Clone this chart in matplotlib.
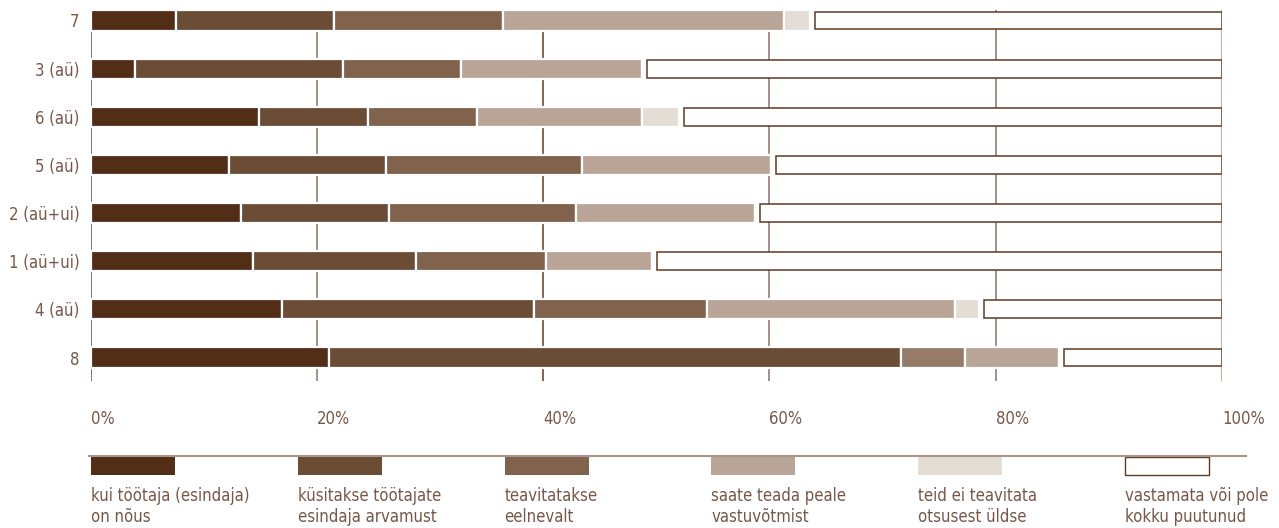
import matplotlib
matplotlib.use("Agg")
import matplotlib.pyplot as plt
from matplotlib.patches import Rectangle
from matplotlib.lines import Line2D
import numpy as np

# rows, top to bottom
categories = ['7', '3 (aü)', '6 (aü)', '5 (aü)', '2 (aü+ui)', '1 (aü+ui)', '4 (aü)', '8']

# shares in %, one list per answer
kui_nous = [7.6, 3.9, 14.9, 12.2, 13.3, 14.4, 16.9, 21.1]
kusitakse = [13.9, 18.4, 9.6, 13.9, 13.1, 14.4, 22.3, 50.5]
teavitatakse = [15.0, 10.4, 9.7, 17.3, 16.5, 11.5, 15.3, 5.7]
peale = [24.8, 16.0, 14.5, 16.7, 15.8, 9.3, 21.9, 8.3]
ei_teavitata = [2.3, 0.0, 3.3, 0.0, 0.0, 0.0, 2.1, 0.0]
vastamata = [36.4, 51.3, 48.0, 39.9, 41.3, 50.4, 21.5, 14.4]

legend_labels = [
    'kui töötaja (esindaja)\non nõus',
    'küsitakse töötajate\nesindaja arvamust',
    'teavitatakse\neelnevalt',
    'saate teada peale\nvastuvõtmist',
    'teid ei teavitata\notsusest üldse',
    'vastamata või pole\nkokku puutunud',
]
ticks = [0, 20, 40, 60, 80, 100]
tick_labels = ['0%', '20%', '40%', '60%', '80%', '100%']

colors = ['#522e17', '#6b4d36', '#80624d', '#b9a698', '#e4ddd6', '#ffffff']
# the last row's third segment is a touch lighter in the original
teav_colors = ['#80624d'] * 7 + ['#967b69']
edge_dark = '#5c3b22'
text_col = '#76584a'
font = dict(family='DejaVu Sans', stretch='condensed')

fig = plt.figure(figsize=(12.79, 5.28), dpi=100)
W, H = 1279, 528
ax = fig.add_axes([90.5 / W, 1 - 381 / H, (1222 - 90.5) / W, (381 - 10) / H])

series = [kui_nous, kusitakse, teavitatakse, peale, ei_teavitata, vastamata]
y = np.arange(len(categories))
left = np.zeros(len(categories))
for i, vals in enumerate(series):
    vals = np.array(vals)
    if i < 5:
        col = teav_colors if i == 2 else colors[i]
        ax.barh(y, vals, left=left, height=0.42, color=col,
                edgecolor='white', linewidth=1.6, zorder=3)
    else:
        ax.barh(y, vals - 0.45, left=left + 0.45, height=0.37, color='white',
                edgecolor=edge_dark, linewidth=1.1, zorder=3)
    left += vals

# grid lines
grid_cols = ['#7a5a48', '#8c7363', '#5c3b22', '#8c7363', '#8c7363', '#a8968a']
grid_lw = [1.2, 1.1, 1.1, 1.1, 1.1, 1.8]
for t, c, lw in zip(ticks, grid_cols, grid_lw):
    ax.axvline(t, color=c, linewidth=lw, zorder=1)

ax.set_xlim(0, 100)
ax.set_ylim(7.488, -0.218)
for s in ax.spines.values():
    s.set_visible(False)

ax.set_xticks(ticks)
ax.set_xticklabels(tick_labels, ha='left', color=text_col, fontsize=12, **font)
ax.set_yticks(y)
ax.set_yticklabels(categories, color=text_col, fontsize=12, **font)
ax.tick_params(axis='x', length=0, pad=21)
ax.tick_params(axis='y', length=0, pad=8)

# legend drawn by hand under the axis
fig.add_artist(Line2D([89 / W, 1246 / W], [1 - 456 / H, 1 - 456 / H],
                      transform=fig.transFigure, color='#a8968a', linewidth=1.5))
for i, lab in enumerate(legend_labels):
    x0 = 91 + i * 206.8
    if i < 5:
        r = Rectangle((x0 / W, 1 - 475 / H), 84 / W, 19 / H, transform=fig.transFigure,
                      facecolor=colors[i], edgecolor='none')
    else:
        r = Rectangle((x0 / W, 1 - 475 / H), 84 / W, 18 / H, transform=fig.transFigure,
                      facecolor='white', edgecolor=edge_dark, linewidth=1.0)
    fig.add_artist(r)
    fig.text(x0 / W, 1 - 487 / H, lab, ha='left', va='top', color=text_col,
             fontsize=12, linespacing=1.25, **font)

fig.savefig('out.png', dpi=100)
